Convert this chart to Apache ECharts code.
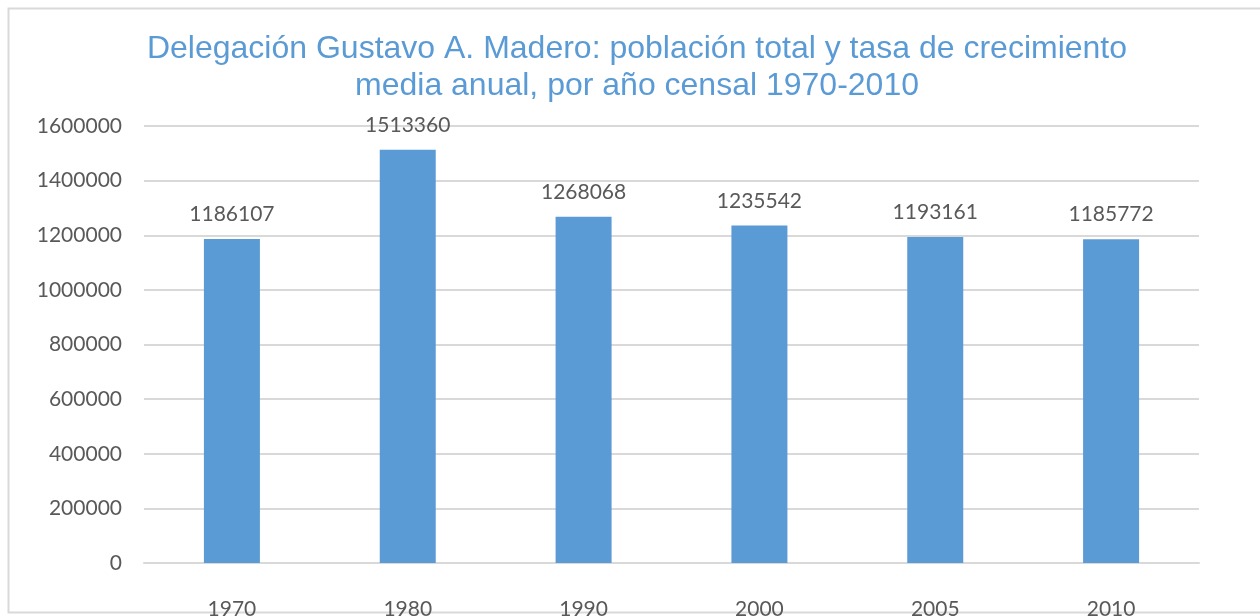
<!DOCTYPE html>
<html>
<head>
<meta charset="utf-8">
<script src="https://cdn.jsdelivr.net/npm/echarts@6/dist/echarts.min.js"></script>
<style>
  html, body { margin: 0; padding: 0; background: #fff; }
  #chart { width: 1260px; height: 616px; }
</style>
</head>
<body>
<div id="chart"></div>
<script>
  const years = ['1970', '1980', '1990', '2000', '2005', '2010'];
  const population = [1186107, 1513360, 1268068, 1235542, 1193161, 1185772];
  const yTicks = { min: 0, max: 1600000, step: 200000 };

  const chart = echarts.init(document.getElementById('chart'));
  chart.setOption({
    animation: false,
    backgroundColor: '#fff',
    graphic: [{
      type: 'rect',
      shape: { x: 8.5, y: 8.5, width: 1270, height: 604 },
      style: { fill: 'none', stroke: '#d9d9d9', lineWidth: 2 },
      silent: true,
      z: -1
    }],
    title: {
      text: 'Delegación Gustavo A. Madero: población total y tasa de crecimiento\nmedia anual, por año censal 1970-2010',
      left: 632,
      top: 26,
      textAlign: 'center',
      textStyle: {
        color: '#5b9bd5',
        fontFamily: 'Liberation Sans',
        fontWeight: 'normal',
        fontSize: 32,
        lineHeight: 37
      }
    },
    grid: { left: 144, right: 61, top: 126, bottom: 53, containLabel: false, outerBoundsMode: 'none' },
    xAxis: {
      type: 'category',
      data: years,
      axisLine: { show: true, lineStyle: { color: '#d9d9d9', width: 2 } },
      axisTick: { show: false },
      axisLabel: { color: '#595959', fontFamily: 'Lato', fontSize: 21, margin: 36 }
    },
    yAxis: {
      type: 'value',
      min: yTicks.min,
      max: yTicks.max,
      interval: yTicks.step,
      axisLine: { show: false },
      axisTick: { show: false },
      axisLabel: {
        color: '#595959', fontFamily: 'Lato', fontSize: 21, margin: 22,
        formatter: v => String(v)
      },
      splitLine: { lineStyle: { color: '#d9d9d9', width: 2 } }
    },
    series: [{
      type: 'bar',
      data: population,
      barWidth: 56,
      itemStyle: { color: '#5b9bd5' },
      label: {
        show: true,
        position: 'top',
        distance: 14,
        color: '#595959',
        fontFamily: 'Lato',
        fontSize: 21
      }
    }]
  });
</script>
</body>
</html>
